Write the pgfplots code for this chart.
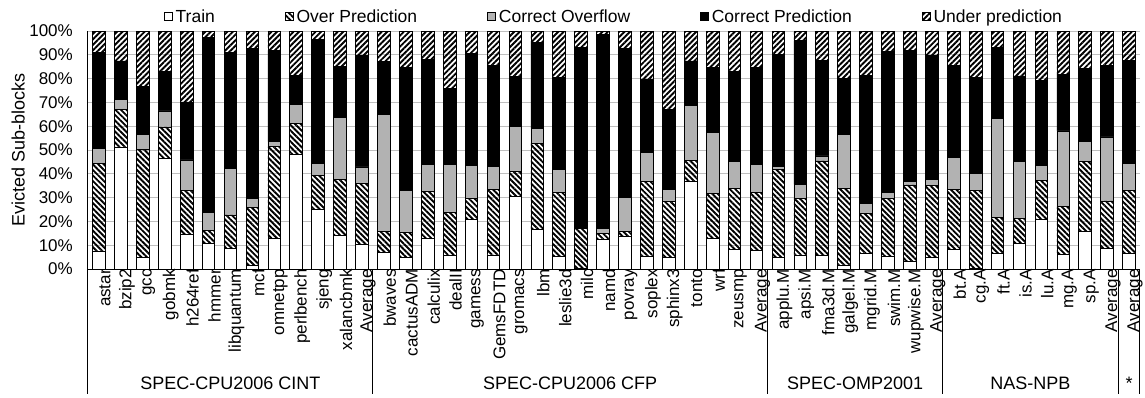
\documentclass[border=0pt]{standalone}
\usepackage{pgfplots}
\pgfplotsset{compat=1.18}
\usepackage{pgfplotstable}
\usepackage{fontspec}
\setmainfont{Liberation Sans}
\usetikzlibrary{patterns.meta}

% Shares of evicted sub-blocks per benchmark (percent)
% cols: train, over prediction, correct overflow, correct prediction, under prediction
\pgfplotstableread{
idx train over overflow correct under
0  7.6  36.8  6.3  40.3  9.0
1  51.3 15.6  4.4  16.1  12.6
2  5.0  45.1  6.5  20.0  23.4
3  46.5 13.2  6.7  16.5  17.1
4  14.7 18.2  12.9 24.4  29.8
5  10.6 5.6   7.6  73.4  2.8
6  8.8  13.9  19.6 48.7  9.0
7  1.4  24.5  3.9  62.9  7.3
8  12.9 38.5  2.1  38.2  8.3
9  48.2 13.1  7.9  12.0  18.8
10 25.2 14.2  4.9  52.2  3.5
11 14.1 23.7  25.9 21.5  14.8
12 10.4 25.7  6.8  47.0  10.1
13 7.0  8.8   49.3 22.0  12.9
14 5.0  10.3  17.6 51.7  15.4
15 12.7 19.7  11.6 44.2  11.8
16 5.7  18.2  20.1 31.8  24.2
17 20.9 8.7   14.0 47.0  9.4
18 5.9  27.4  9.8  42.6  14.3
19 30.3 10.5  19.1 21.1  19.0
20 16.7 36.1  6.4  35.9  4.9
21 5.3  26.9  9.7  38.5  19.6
22 0.4  16.7  0.0  76.0  6.9
23 12.5 2.6   2.1  81.3  1.5
24 13.6 2.1   14.4 62.5  7.4
25 5.5  31.3  12.1 30.8  20.3
26 5.0  23.2  5.1  33.9  32.8
27 36.8 8.9   23.1 18.6  12.6
28 13.0 18.9  25.4 27.2  15.5
29 8.3  25.6  11.3 37.7  17.1
30 7.8  24.4  11.8 40.6  15.4
31 4.8  37.1  1.1  47.2  9.8
32 5.9  23.8  5.9  60.3  4.1
33 5.6  39.8  2.1  40.3  12.2
34 1.7  32.1  22.8 23.5  19.9
35 6.7  16.7  4.1  53.7  18.8
36 5.3  24.3  2.5  59.2  8.7
37 3.1  32.2  1.3  55.4  8.0
38 5.0  30.2  2.6  52.1  10.1
39 8.1  25.4  13.4 38.5  14.6
40 0.4  32.5  7.3  40.2  19.6
41 6.4  15.3  41.5 29.8  7.0
42 10.9 10.5  23.7 36.0  18.9
43 21.0 16.1  6.3  35.7  20.9
44 6.3  19.8  31.9 23.9  18.1
45 15.7 29.4  8.5  30.6  15.8
46 8.7  19.9  26.9 29.9  14.6
47 6.7  26.2  11.4 43.5  12.2
}\evictdata

\tikzset{
  overpat/.style={pattern={Lines[angle=-45,distance=3.9pt,line width=1.9pt]}},
  underpat/.style={pattern={Lines[angle=45,distance=3.9pt,line width=1.9pt]}},
  grouplabel/.style={anchor=center, font=\fontsize{18}{20}\selectfont},
}

\begin{document}
\begin{tikzpicture}
\useasboundingbox (0,0) rectangle (1145pt,397pt);
\begin{axis}[
  at={(88pt,128pt)}, anchor=south west,
  scale only axis,
  width=1052pt, height=238pt,
  font=\fontsize{17}{19}\selectfont,
  ybar stacked,
  bar width=0.58,
  xmin=-0.5, xmax=47.5,
  ymin=0, ymax=100,
  ytick={0,10,...,100},
  yticklabel={\pgfmathprintnumber{\tick}\%},
  /pgf/number format/assume math mode=true,
  ymajorgrids,
  grid style={draw=black!25, line width=0.9pt},
  axis x line*=bottom,
  axis y line*=left,
  axis line style={line width=1pt},
  major tick length=0pt,
  yticklabel style={inner sep=0pt, anchor=east, xshift=-15pt},
  ylabel={Evicted Sub-blocks},
  ylabel style={anchor=south, yshift=1pt, font=\fontsize{18}{20}\selectfont},
  xtick={0,...,47},
  xticklabels={astar,bzip2,gcc,gobmk,h264ref,hmmer,libquantum,mcf,omnetpp,perlbench,sjeng,xalancbmk,Average,
    bwaves,cactusADM,calculix,dealII,gamess,GemsFDTD,gromacs,lbm,leslie3d,milc,namd,povray,soplex,sphinx3,tonto,wrf,zeusmp,Average,
    applu.M,apsi.M,fma3d.M,galgel.M,mgrid.M,swim.M,wupwise.M,Average,
    bt.A,cg.A,ft.A,is.A,lu.A,mg.A,sp.A,Average,Average},
  xticklabel style={rotate=90, anchor=east, inner sep=0pt, yshift=-6pt},
  every axis plot/.append style={draw=black, line width=0.8pt},
  legend style={at={(0.5,1)}, anchor=south, yshift=5pt, draw=none, fill=none,
    legend columns=-1, inner sep=0pt,
    /tikz/every even column/.append style={column sep=68pt},
    font=\fontsize{17.5}{19}\selectfont},
  legend image code/.code={\draw[#1, line width=0.7pt] (0pt,-4pt) rectangle (8pt,4pt);},
  legend cell align=left,
  clip=false,
]
\addplot[fill=white] table[x=idx, y=train] {\evictdata};
\addlegendentry{\hspace{1pt}Train}
\addplot[fill=white, overpat] table[x=idx, y=over] {\evictdata};
\addlegendentry{\hspace{1pt}Over Prediction}
\addplot[fill=black!30] table[x=idx, y=overflow] {\evictdata};
\addlegendentry{\hspace{1pt}Correct Overflow}
\addplot[fill=black] table[x=idx, y=correct] {\evictdata};
\addlegendentry{\hspace{1pt}Correct Prediction}
\addplot[fill=white, underpat] table[x=idx, y=under] {\evictdata};
\addlegendentry{\hspace{1pt}Under prediction}

% group separators below the category axis
\pgfplotsinvokeforeach{-0.5,12.5,30.5,38.5,46.5,47.5}{
  \draw[line width=1pt] (axis cs:#1,0) -- ++(0pt,-125pt);
}
% group names
\node[grouplabel] at ([yshift=-114pt]axis cs:6,0) {SPEC-CPU2006 CINT};
\node[grouplabel] at ([yshift=-114pt]axis cs:21.5,0) {SPEC-CPU2006 CFP};
\node[grouplabel] at ([yshift=-114pt]axis cs:34.5,0) {SPEC-OMP2001};
\node[grouplabel] at ([yshift=-114pt]axis cs:42.5,0) {NAS-NPB};
\node[grouplabel] at ([yshift=-114pt]axis cs:47,0) {*};
\end{axis}
\end{tikzpicture}
\end{document}
